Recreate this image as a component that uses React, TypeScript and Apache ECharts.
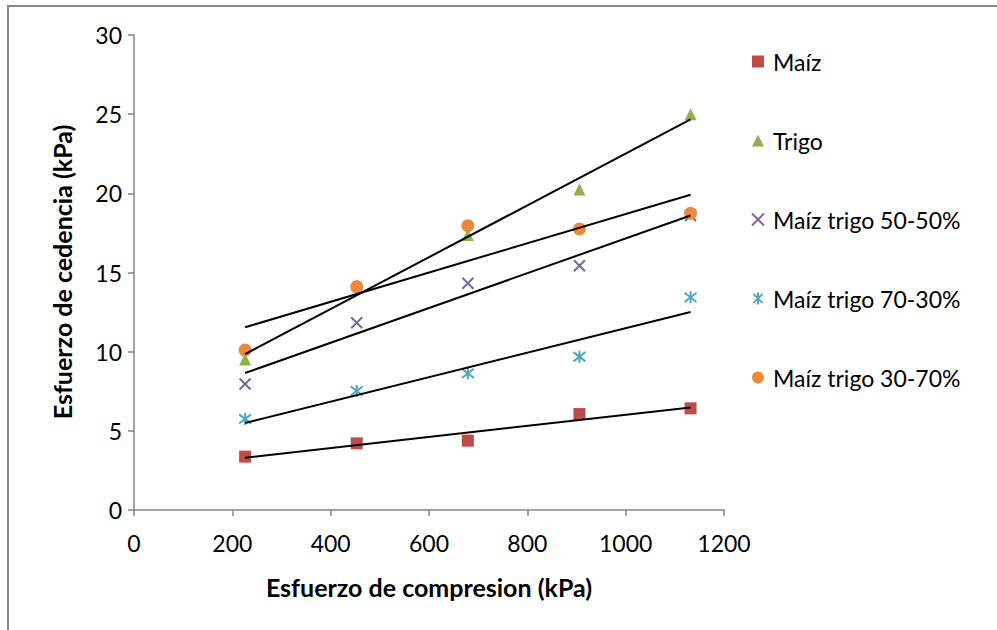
import React, { useEffect, useRef } from "react";
import * as echarts from "echarts";

// Compression stress (kPa) applied at each load step
const compresion = [226, 453, 679, 906, 1132];

// Yield stress (kPa) for each mixture
const maiz = [3.37, 4.21, 4.38, 6.06, 6.42];
const trigo = [9.5, 14.2, 17.37, 20.25, 25.0];
const mt5050 = [7.96, 11.83, 14.32, 15.43, 18.6];
const mt7030 = [5.75, 7.52, 8.63, 9.68, 13.43];
const mt3070 = [10.1, 14.1, 17.96, 17.75, 18.74];

const seriesNames = ["Maíz", "Trigo", "Maíz trigo 50-50%", "Maíz trigo 70-30%", "Maíz trigo 30-70%"];
const seriesColors = ["#BE4B48", "#8FB04F", "#7F63A1", "#4AA8C2", "#EC8A3C"];

const yTicks = { min: 0, max: 30, interval: 5 };
const xTicks = { min: 0, max: 1200, interval: 200 };

const FONT = "Lato, 'Open Sans', sans-serif";

// Least-squares linear trendline spanning the measured range
function trend(xs: number[], ys: number[]): number[][] {
  const n = xs.length;
  const mx = xs.reduce((a, b) => a + b, 0) / n;
  const my = ys.reduce((a, b) => a + b, 0) / n;
  let sxy = 0;
  let sxx = 0;
  for (let i = 0; i < n; i++) {
    sxy += (xs[i] - mx) * (ys[i] - my);
    sxx += (xs[i] - mx) * (xs[i] - mx);
  }
  const b = sxy / sxx;
  const a = my - b * mx;
  const x0 = Math.min(...xs);
  const x1 = Math.max(...xs);
  return [
    [x0, a + b * x0],
    [x1, a + b * x1],
  ];
}

const crossPath = "path://M0,0L10,10M10,0L0,10";
const starPath = "path://M0,0L10,10M10,0L0,10M5,-1.5L5,11.5";

export default function App() {
  const ref = useRef<HTMLDivElement>(null);

  useEffect(() => {
    if (!ref.current) return;
    const chart = echarts.init(ref.current, undefined, { renderer: "svg" });

    const values = [maiz, trigo, mt5050, mt7030, mt3070];
    const symbols = ["rect", "triangle", crossPath, starPath, "circle"];
    const sizes = [12, 12, 11, 12, 13];

    const scatter = values.map((vals, i) => {
      const stroked = i === 2 || i === 3;
      return {
        name: seriesNames[i],
        type: "scatter",
        symbol: symbols[i],
        symbolSize: sizes[i],
        data: compresion.map((x, j) => [x, vals[j]]),
        itemStyle: stroked
          ? { color: "rgba(0,0,0,0)", borderColor: seriesColors[i], borderWidth: 2, opacity: 1 }
          : { color: seriesColors[i], opacity: 1 },
        z: 2,
      };
    });

    const lines = values.map((vals, i) => ({
      name: seriesNames[i] + " tendencia",
      type: "line",
      data: trend(compresion, vals),
      symbol: "none",
      silent: true,
      lineStyle: { color: "#000", width: 2 },
      z: 3,
    }));

    const axisCommon = {
      axisLine: { show: true, lineStyle: { color: "#868686", width: 1.5 } },
      axisTick: { show: true, length: 6, lineStyle: { color: "#868686", width: 1.5 } },
      splitLine: { show: false },
    };

    chart.setOption({
      animation: false,
      backgroundColor: "#fff",
      grid: { left: 134, right: 273, top: 35, bottom: 120 },
      xAxis: {
        type: "value",
        ...xTicks,
        ...axisCommon,
        axisLabel: {
          color: "#000",
          fontSize: 23,
          fontFamily: FONT,
          margin: 21,
          formatter: (v: number) => String(v),
        },
      },
      yAxis: {
        type: "value",
        ...yTicks,
        ...axisCommon,
        axisLabel: {
          color: "#000",
          fontSize: 23,
          fontFamily: FONT,
          margin: 12,
          formatter: (v: number) => String(v),
        },
      },
      legend: {
        orient: "vertical",
        left: 746,
        top: 45,
        itemGap: 56,
        itemWidth: 12,
        itemHeight: 12,
        data: seriesNames,
        textStyle: { color: "#000", fontSize: 23, fontFamily: FONT, padding: [0, 0, 0, 4] },
      },
      graphic: [
        {
          type: "rect",
          shape: { x: 8, y: 6, width: 1100, height: 800 },
          style: { fill: "none", stroke: "#868686", lineWidth: 2 },
          silent: true,
        },
        {
          type: "text",
          x: 429,
          y: 587,
          style: {
            text: "Esfuerzo de compresion (kPa)",
            font: "bold 25px " + FONT,
            fill: "#000",
            textAlign: "center",
            textVerticalAlign: "middle",
          },
        },
        {
          type: "text",
          x: 62,
          y: 272,
          rotation: Math.PI / 2,
          style: {
            text: "Esfuerzo de cedencia (kPa)",
            font: "bold 25px " + FONT,
            fill: "#000",
            textAlign: "center",
            textVerticalAlign: "middle",
          },
        },
      ],
      series: [...scatter, ...lines],
    });

    return () => chart.dispose();
  }, []);

  return (
    <div
      ref={ref}
      style={{ position: "fixed", left: 0, top: 0, width: 997, height: 630 }}
    />
  );
}
